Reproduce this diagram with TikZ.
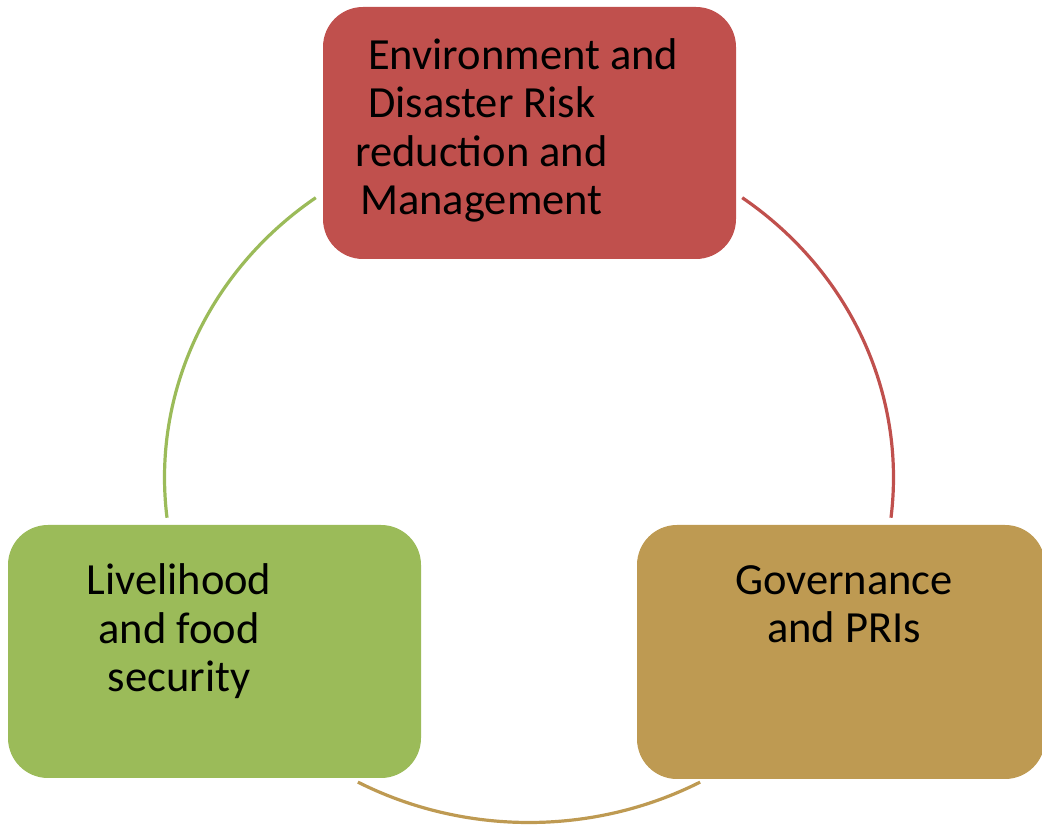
\documentclass[tikz,border=0pt]{standalone}
\usepackage{fontspec}
\setmainfont{Carlito}
\begin{document}
\begin{tikzpicture}[x=1pt,y=1pt,
  box/.style={draw=none,rounded corners=40pt,inner sep=0pt},
  lbl/.style={inner sep=0pt,font=\fontsize{44.5}{48.5}\selectfont,text=black},
  ring/.style={line width=3.2pt}]
\definecolor{cred}{RGB}{192,80,77}
\definecolor{cgreen}{RGB}{155,187,89}
\definecolor{ctan}{RGB}{190,154,82}
\useasboundingbox (0,0) rectangle (1042,825);
% boxes
\node[box,fill=cred,minimum width=413pt,minimum height=252pt] (env) at (529.5,692) {};
\node[box,fill=cgreen,minimum width=413pt,minimum height=253pt] (live) at (214.5,173.5) {};
\node[box,fill=ctan,minimum width=408pt,minimum height=254pt] (gov) at (841,173) {};
% labels (base anchor = baseline of the last line)
\node[lbl,align=left,anchor=base west] (envt) at (355,610) {\hspace*{13pt}Environment and\\\hspace*{13pt}Disaster Risk\\reduction and\\\hspace*{5pt}Management};
\node[lbl,align=center,anchor=base] (livet) at (179,133) {Livelihood\\and food\\security};
\node[lbl,align=center,anchor=base] (govt) at (844,182) {Governance\\and PRIs};
% ring coordinates
\coordinate (g1) at ({529+364.5*cos(125.8)},{347.5+345*sin(125.8)});
\coordinate (r1) at ({529+364.5*cos(54.2)},{347.5+345*sin(54.2)});
\coordinate (b1) at ({529+364.5*cos(242)},{347.5+345*sin(242)});
\draw[ring,draw=cgreen] (g1) arc[start angle=125.8,end angle=186.7,x radius=364.5,y radius=345];
\draw[ring,draw=cred] (r1) arc[start angle=54.2,end angle=-6.7,x radius=364.5,y radius=345];
\draw[ring,draw=ctan] (b1) arc[start angle=242,end angle=298,x radius=364.5,y radius=345];
\end{tikzpicture}
\end{document}
